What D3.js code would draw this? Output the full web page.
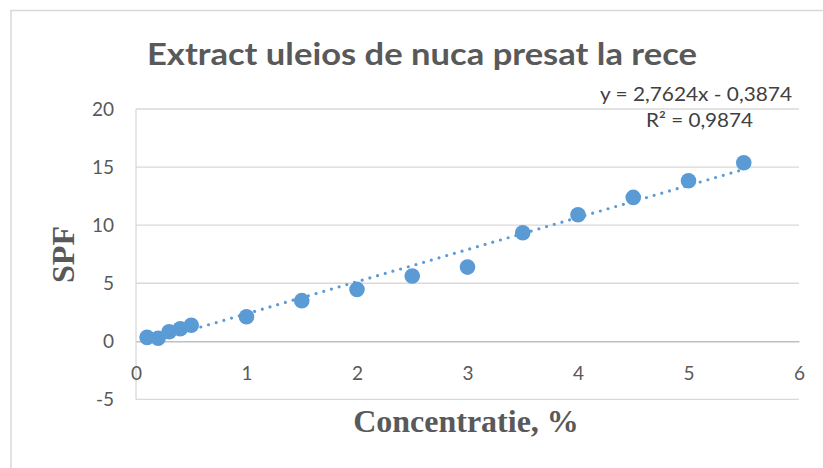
<!DOCTYPE html>
<html>
<head>
<meta charset="utf-8">
<script src="https://cdn.jsdelivr.net/npm/d3@7"></script>
<style>
    body { margin: 0; background: #fff; }
    svg { display: block; }
</style>
</head>
<body>
<svg id="chart" width="823" height="468"></svg>
<script>
// data
const concentration = [0.1, 0.2, 0.3, 0.4, 0.5, 1, 1.5, 2, 2.5, 3, 3.5, 4, 4.5, 5, 5.5];
const spfValues = [0.34, 0.26, 0.83, 1.08, 1.38, 2.12, 3.5, 4.47, 5.62, 6.39, 9.35, 10.9, 12.39, 13.82, 15.37];
const yTicks = [-5, 0, 5, 10, 15, 20];
const xTicks = [0, 1, 2, 3, 4, 5, 6];
const trendSlope = 2.7624;
const trendIntercept = -0.3874;
const trendRange = [0.1, 5.5];
const titleText = 'Extract uleios de nuca presat la rece';
const equationText = 'y = 2,7624x - 0,3874';
const r2Text = 'R² = 0,9874';

const BLUE = '#5b9bd5';
const GRID = '#d9d9d9';
const SANS = 'Lato, "Open Sans", sans-serif';
const SERIF = '"Liberation Serif", "DejaVu Serif", serif';

const svg = d3.select('#chart');

// stretch a text to a measured width when the font differs too much
function fit(sel, w) {
    const len = sel.node().getComputedTextLength();
    if (Math.abs(len - w) / w > 0.02) {
        sel.attr('textLength', w).attr('lengthAdjust', 'spacingAndGlyphs');
    }
}

// chart area border (runs off the right and bottom edge)
svg.append('rect')
    .attr('x', 11).attr('y', 10.5)
    .attr('width', 900).attr('height', 600)
    .attr('fill', 'none')
    .attr('stroke', GRID)
    .attr('stroke-width', 1.5);

const x = d3.scaleLinear().domain([0, 6]).range([136, 799]);
const y = d3.scaleLinear().domain([-5, 20]).range([399.4, 109]);

// gridlines
svg.append('g')
    .selectAll('line')
    .data(yTicks.filter(d => d !== 0))
    .enter()
    .append('line')
    .attr('x1', x(0)).attr('x2', x(6))
    .attr('y1', d => y(d)).attr('y2', d => y(d))
    .attr('stroke', GRID)
    .attr('stroke-width', 1.3);

// vertical axis line
svg.append('line')
    .attr('x1', x(0)).attr('x2', x(0))
    .attr('y1', y(20)).attr('y2', y(-5))
    .attr('stroke', GRID)
    .attr('stroke-width', 1.3);

// y axis labels
const yAxis = svg.append('g')
    .attr('transform', `translate(${x(0)},0)`)
    .call(d3.axisLeft(y).tickValues(yTicks).tickSize(0).tickPadding(22).tickFormat(d => String(d)));
yAxis.select('.domain').remove();
yAxis.selectAll('text')
    .style('font-family', SANS)
    .style('font-size', '19px')
    .attr('fill', '#595959');

// x axis sits on y = 0
const xAxis = svg.append('g')
    .attr('transform', `translate(0,${y(0)})`)
    .call(d3.axisBottom(x).tickValues(xTicks).tickSize(0).tickPadding(25).tickFormat(d => String(d)));
xAxis.select('.domain')
    .attr('stroke', '#bfbfbf')
    .attr('stroke-width', 1.5);
xAxis.selectAll('text')
    .style('font-family', SANS)
    .style('font-size', '19px')
    .attr('fill', '#595959');

// linear trendline, dotted
svg.append('line')
    .attr('x1', x(trendRange[0]))
    .attr('y1', y(trendSlope * trendRange[0] + trendIntercept))
    .attr('x2', x(trendRange[1]))
    .attr('y2', y(trendSlope * trendRange[1] + trendIntercept))
    .attr('stroke', BLUE)
    .attr('stroke-width', 3.2)
    .attr('stroke-linecap', 'round')
    .attr('stroke-dasharray', '0 8');

// markers
svg.append('g')
    .selectAll('circle')
    .data(concentration.map((c, i) => ({ c, v: spfValues[i] })))
    .enter()
    .append('circle')
    .attr('cx', d => x(d.c))
    .attr('cy', d => y(d.v))
    .attr('r', 7.8)
    .attr('fill', BLUE);

// title
const title = svg.append('text')
    .attr('x', 422).attr('y', 65)
    .attr('text-anchor', 'middle')
    .style('font-family', SANS)
    .style('font-size', '31px')
    .style('font-weight', 'bold')
    .attr('fill', '#595959')
    .text(titleText);
fit(title, 550);

// trendline label
const eq = svg.append('text')
    .attr('x', 792).attr('y', 101)
    .attr('text-anchor', 'end')
    .style('font-family', SANS)
    .style('font-size', '19px')
    .attr('fill', '#404040')
    .text(equationText);
fit(eq, 192);

const r2 = svg.append('text')
    .attr('x', 699.5).attr('y', 127)
    .attr('text-anchor', 'middle')
    .style('font-family', SANS)
    .style('font-size', '19px')
    .attr('fill', '#404040')
    .text(r2Text);
fit(r2, 107);

// axis titles
svg.append('text')
    .attr('x', 466).attr('y', 432)
    .attr('text-anchor', 'middle')
    .style('font-family', SERIF)
    .style('font-size', '32px')
    .style('font-weight', 'bold')
    .attr('fill', '#595959')
    .text('Concentratie, %');

svg.append('text')
    .attr('transform', 'translate(74,254.5) rotate(-90)')
    .attr('text-anchor', 'middle')
    .style('font-family', SERIF)
    .style('font-size', '32px')
    .style('font-weight', 'bold')
    .attr('fill', '#595959')
    .text('SPF');
</script>
</body>
</html>
